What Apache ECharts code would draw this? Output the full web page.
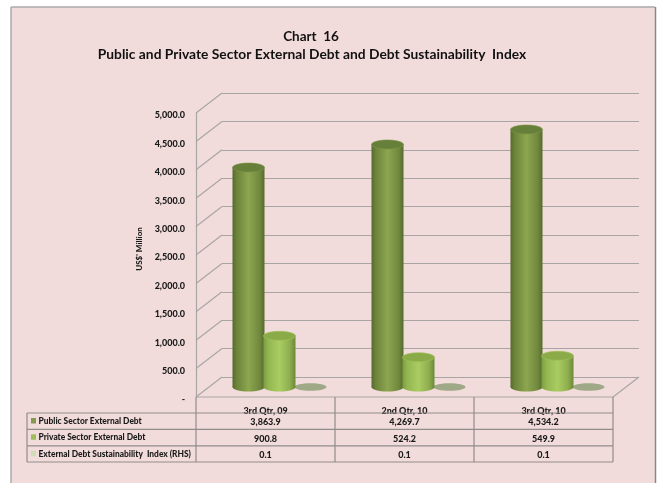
<!DOCTYPE html>
<html><head><meta charset="utf-8">
<style>html,body{margin:0;padding:0;background:#fff}#c{width:657px;height:483px}</style>
<script src="https://cdn.jsdelivr.net/npm/echarts@6/dist/echarts.min.js"></script>
</head><body><div id="c"></div>
<script>
const categories = ['3rd Qtr, 09', '2nd Qtr, 10', '3rd Qtr, 10'];
const publicDebt = [3863.9, 4269.7, 4534.2];
const privateDebt = [900.8, 524.2, 549.9];
const sustainIndex = [0.1, 0.1, 0.1];
const seriesNames = ['Public Sector External Debt', 'Private Sector External Debt', 'External Debt Sustainability  Index (RHS)'];
const yTicks = [0, 500, 1000, 1500, 2000, 2500, 3000, 3500, 4000, 4500, 5000];

const FONT = 'Lato, "Open Sans", sans-serif';
const INK = '#1a1a1a';
const DX = 26, DY = 20, BAR_W = 32, EH = 4.5;
const fmt = v => v.toLocaleString('en-US', {minimumFractionDigits: 1, maximumFractionDigits: 1});
const grad = stops => ({type:'linear',x:0,y:0,x2:1,y2:0,colorStops:stops.map(c => ({offset:c[0], color:c[1]}))});

function cylinder(offset, side, top, rim) {
  return function (params, api) {
    const b = api.coord([api.value(0), 0]);
    const t = api.coord([api.value(0), api.value(1)]);
    const cx = b[0] + DX / 2 + offset, by = b[1] - DY / 2, ty = t[1] - DY / 2, r = BAR_W / 2;
    return {type:'group', children:[
      {type:'ellipse', shape:{cx, cy:by, rx:r, ry:EH}, style:{fill:side}},
      {type:'rect', shape:{x:cx - r, y:ty, width:BAR_W, height:by - ty}, style:{fill:side}},
      {type:'ellipse', shape:{cx, cy:ty, rx:r, ry:EH}, style:{fill:top, stroke:rim, lineWidth:.6}}
    ]};
  };
}
function flatDisc(offset, fill) {
  return function (params, api) {
    const b = api.coord([api.value(0), api.value(1)]);
    return {type:'ellipse', shape:{cx:b[0] + DX / 2 + offset, cy:b[1] - DY / 2, rx:16, ry:3.8}, style:{fill}};
  };
}
function depthLines(params, api) {
  const p = api.coord([0, api.value(1)]);
  const x0 = params.coordSys.x, kids = [{type:'line', shape:{x1:x0, y1:p[1], x2:x0 + DX, y2:p[1] - DY}, style:{stroke:'#aaa5a5', lineWidth:1.2}}];
  if (api.value(1) === 0) {
    const xr = params.coordSys.x + params.coordSys.width;
    kids.push({type:'line', shape:{x1:xr, y1:p[1], x2:xr + DX, y2:p[1] - DY}, style:{stroke:'#aaa5a5', lineWidth:1.2}});
  }
  return {type:'group', children:kids};
}
function tableCells(params, api) {
  const i = api.value(0), c = api.coord([i, 0]);
  const rowTop = c[1] + 16, rowH = 16.4;
  const kids = [];
  [publicDebt, privateDebt, sustainIndex].forEach((arr, r) => kids.push({type:'text', x:c[0], y:rowTop + rowH * r + rowH / 2 + 1,
    style:{text:fmt(arr[i]), fill:INK, font:'900 9px ' + FONT, align:'center', verticalAlign:'middle'}}));
  return {type:'group', children:kids};
}

const L = 27, T0 = 397, C0 = 196, C3 = 613, ROW = [413, 429.3, 445.8, 462];
const frame = [
  {type:'rect', silent:true, z:0, shape:{x:11, y:7, width:644, height:480}, style:{fill:'#f2dcdb'}},
  {type:'line', silent:true, z:0, shape:{x1:11, y1:7, x2:655, y2:7}, style:{stroke:'#aaaaaa', lineWidth:1.5}},
  {type:'line', silent:true, z:0, shape:{x1:11, y1:7, x2:11, y2:483}, style:{stroke:'#aaaaaa', lineWidth:1.5}},
  {type:'line', silent:true, z:0, shape:{x1:655.5, y1:7, x2:655.5, y2:483}, style:{stroke:'#888888', lineWidth:1.5}}
];
const tableGraphics = [];
const line = (x1, y1, x2, y2, stroke) => tableGraphics.push({type:'line', silent:true, z:6, shape:{x1, y1, x2, y2}, style:{stroke, lineWidth:1.2}});
ROW.forEach(y => line(L, y, C3, y, '#8f8c8c'));
line(C0, T0, C3, T0, '#aaa5a5');
line(L, ROW[0], L, ROW[3], '#8f8c8c');
[0, 1, 2, 3].forEach(k => line(C0 + k * (C3 - C0) / 3, T0, C0 + k * (C3 - C0) / 3, ROW[3], '#8f8c8c'));
const keyColors = ['#86994f', '#9fbe5a', '#cfdcb6'];
seriesNames.forEach((n, r) => {
  tableGraphics.push({type:'rect', silent:true, z:6, shape:{x:31, y:ROW[r] + 5, width:5, height:5.5}, style:{fill:keyColors[r]}});
  tableGraphics.push({type:'text', silent:true, z:6, x:38.5, y:ROW[r] + 8, style:{text:n, fill:INK, font:'900 8.4px ' + FONT, verticalAlign:'middle'}});
});

const chart = echarts.init(document.getElementById('c'), null, {renderer:'canvas'});
const catData = categories.map((c, i) => i);
const pairs = a => a.map((v, i) => [i, v]);
chart.setOption({
  animation:false,
  backgroundColor:'#ffffff',
  title:[
    {text:'Chart  16', left:306, top:25, textAlign:'center', textStyle:{fontFamily:FONT, fontWeight:'bold', fontSize:13.5, color:'#111'}},
    {text:'Public and Private Sector External Debt and Debt Sustainability  Index', left:307, top:43, textAlign:'center', textStyle:{fontFamily:FONT, fontWeight:'bold', fontSize:13.8, color:'#111'}}
  ],
  grid:[
    {left:196, right:44, top:113, bottom:86},
    {left:222, right:18, top:93, bottom:106}
  ],
  xAxis:[
    {type:'category', gridIndex:0, data:categories, axisLine:{show:false}, axisTick:{show:false},
     axisLabel:{margin:10, fontFamily:FONT, fontWeight:900, fontSize:9, color:INK}},
    {type:'category', gridIndex:1, data:categories, show:false}
  ],
  yAxis:[
    {type:'value', gridIndex:0, min:0, max:5000, interval:500, name:"US$' Million", nameLocation:'middle', nameGap:41,
     nameTextStyle:{fontFamily:FONT, fontWeight:900, fontSize:8, color:INK, padding:[0,0,0,12]},
     axisLine:{show:true, lineStyle:{color:'#aaa5a5', width:1.2}}, axisTick:{show:false}, splitLine:{show:false},
     axisLabel:{margin:11, verticalAlign:'top', lineHeight:5, fontFamily:FONT, fontWeight:900, fontSize:9, color:INK, formatter:v => v === 0 ? '-' : fmt(v)}},
    {type:'value', gridIndex:1, min:0, max:5000, interval:500, axisLine:{show:false}, axisTick:{show:false}, axisLabel:{show:false},
     splitLine:{show:true, lineStyle:{color:'#aaa5a5', width:1.2}}}
  ],
  series:[
    {type:'custom', xAxisIndex:0, yAxisIndex:0, z:1, clip:false, renderItem:depthLines, data:yTicks.map(v => [0, v]), encode:{x:0, y:1}},
    {type:'custom', xAxisIndex:0, yAxisIndex:0, z:3, clip:false, name:seriesNames[0], data:pairs(publicDebt), encode:{x:0, y:1},
     renderItem:cylinder(-30, grad([[0,'#55692e'],[.12,'#6b8239'],[.5,'#8ca650'],[.85,'#71883d'],[1,'#566b2e']]), '#66803a', '#7f9649')},
    {type:'custom', xAxisIndex:0, yAxisIndex:0, z:4, clip:false, name:seriesNames[1], data:pairs(privateDebt), encode:{x:0, y:1},
     renderItem:cylinder(1, grad([[0,'#7d9c42'],[.15,'#93b651'],[.5,'#a9cc62'],[.82,'#8fae4e'],[1,'#6b8a3a']]), '#8aab47', '#a2c25b')},
    {type:'custom', xAxisIndex:0, yAxisIndex:0, z:2, clip:false, name:seriesNames[2], data:pairs(sustainIndex), encode:{x:0, y:1},
     renderItem:flatDisc(32, '#9fa987')},
    {type:'custom', xAxisIndex:0, yAxisIndex:0, z:5, clip:false, renderItem:tableCells, data:catData.map(i => [i, 0]), encode:{x:0, y:1}}
  ],
  graphic:[{type:'group', silent:true, z:-1, children:frame}].concat(tableGraphics)
});
</script></body></html>
